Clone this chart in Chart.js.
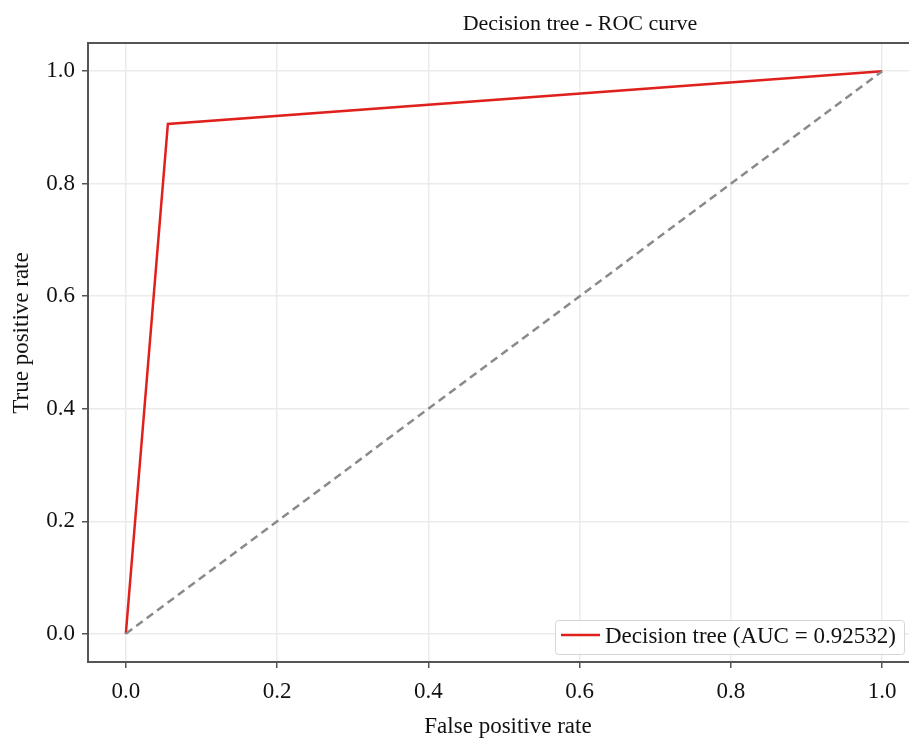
<!DOCTYPE html>
<html>
<head>
<meta charset="utf-8">
<script src="https://cdn.jsdelivr.net/npm/chart.js@4"></script>
<style>
  html, body { margin: 0; padding: 0; background: #fff; overflow: hidden; }
  #wrap { width: 920px; height: 740px; }
</style>
</head>
<body>
<div id="wrap"><canvas id="myChart" width="920" height="740"></canvas></div>
<script>
// ROC curve values
const fpr = [0.0, 0.0556, 1.0];
const tpr = [0.0, 0.9062, 1.0];
const chanceX = [0.0, 1.0];
const chanceY = [0.0, 1.0];
const xTicks = [0.0, 0.2, 0.4, 0.6, 0.8, 1.0];
const yTicks = [0.0, 0.2, 0.4, 0.6, 0.8, 1.0];
const chartTitle = "Decision tree - ROC curve";
const xTitle = "False positive rate";
const yTitle = "True positive rate";
const legendLabel = "Decision tree (AUC = 0.92532)";

const serif = "'Liberation Serif', 'Times New Roman', serif";

// frame, titles and the boxed legend in the lower right corner
const extras = {
  id: "extras",
  afterDraw(chart) {
    const c = chart.ctx;
    const a = chart.chartArea;
    c.save();
    // top border of the frame
    c.strokeStyle = "#555";
    c.lineWidth = 2;
    c.beginPath();
    c.moveTo(a.left - 1, a.top);
    c.lineTo(a.right, a.top);
    c.stroke();
    // title
    c.fillStyle = "#111";
    c.font = "22px " + serif;
    c.textAlign = "center";
    c.textBaseline = "middle";
    c.fillText(chartTitle, 580, 24);
    // axis titles
    c.font = "23px " + serif;
    c.fillText(xTitle, 508, 727);
    c.save();
    c.translate(22, 333);
    c.rotate(-Math.PI / 2);
    c.fillText(yTitle, 0, 0);
    c.restore();
    // legend
    const bx = 555, by = 620, bw = 349, bh = 34;
    c.fillStyle = "rgba(255,255,255,0.9)";
    c.strokeStyle = "#d6d6d6";
    c.lineWidth = 1;
    c.beginPath();
    c.roundRect(bx + 0.5, by + 0.5, bw, bh, 3);
    c.fill();
    c.stroke();
    c.strokeStyle = "#e0201c";
    c.lineWidth = 2.5;
    c.beginPath();
    c.moveTo(561, 635);
    c.lineTo(600, 635);
    c.stroke();
    c.fillStyle = "#111";
    c.font = "23px " + serif;
    c.textAlign = "left";
    c.fillText(legendLabel, 605, 637);
    c.restore();
  }
};

function renderChart() {
  const ctx = document.getElementById("myChart");

  const curve = [];
  for (let i = 0; i < fpr.length; i++) {
    curve.push({ x: fpr[i], y: tpr[i] });
  }
  const chance = [];
  for (let i = 0; i < chanceX.length; i++) {
    chance.push({ x: chanceX[i], y: chanceY[i] });
  }

  new Chart(ctx, {
    type: "line",
    data: {
      datasets: [
        {
          label: "chance",
          data: chance,
          borderColor: "#8a8a8a",
          borderWidth: 2.5,
          borderDash: [8, 5],
          pointRadius: 0,
          fill: false,
        },
        {
          label: legendLabel,
          data: curve,
          borderColor: "#e0201c",
          borderWidth: 2.5,
          pointRadius: 0,
          fill: false,
          tension: 0,
        },
      ],
    },
    plugins: [extras],
    options: {
      responsive: false,
      animation: false,
      layout: { padding: { top: 43, right: 0, left: 0, bottom: 0 } },
      plugins: {
        legend: { display: false },
        tooltip: { enabled: false },
      },
      scales: {
        x: {
          type: "linear",
          min: -0.05,
          max: 1.05,
          afterBuildTicks: (axis) => { axis.ticks = xTicks.map((v) => ({ value: v })); },
          afterFit: (axis) => { axis.height = 78; },
          ticks: {
            font: { family: serif, size: 23 },
            color: "#111",
            padding: 10,
            callback: (v) => v.toFixed(1),
          },
          grid: { color: "#ebebeb", lineWidth: 1.5, tickColor: "#555", tickLength: 6 },
          border: { color: "#555", width: 2 },
        },
        y: {
          type: "linear",
          min: -0.05,
          max: 1.05,
          afterBuildTicks: (axis) => { axis.ticks = yTicks.map((v) => ({ value: v })); },
          afterFit: (axis) => { axis.width = 88; },
          ticks: {
            font: { family: serif, size: 23 },
            color: "#111",
            padding: 7,
            callback: (v) => v.toFixed(1),
          },
          grid: { color: "#ebebeb", lineWidth: 1.5, tickColor: "#555", tickLength: 6 },
          border: { color: "#555", width: 2 },
        },
      },
    },
  });
}

renderChart();
</script>
</body>
</html>
